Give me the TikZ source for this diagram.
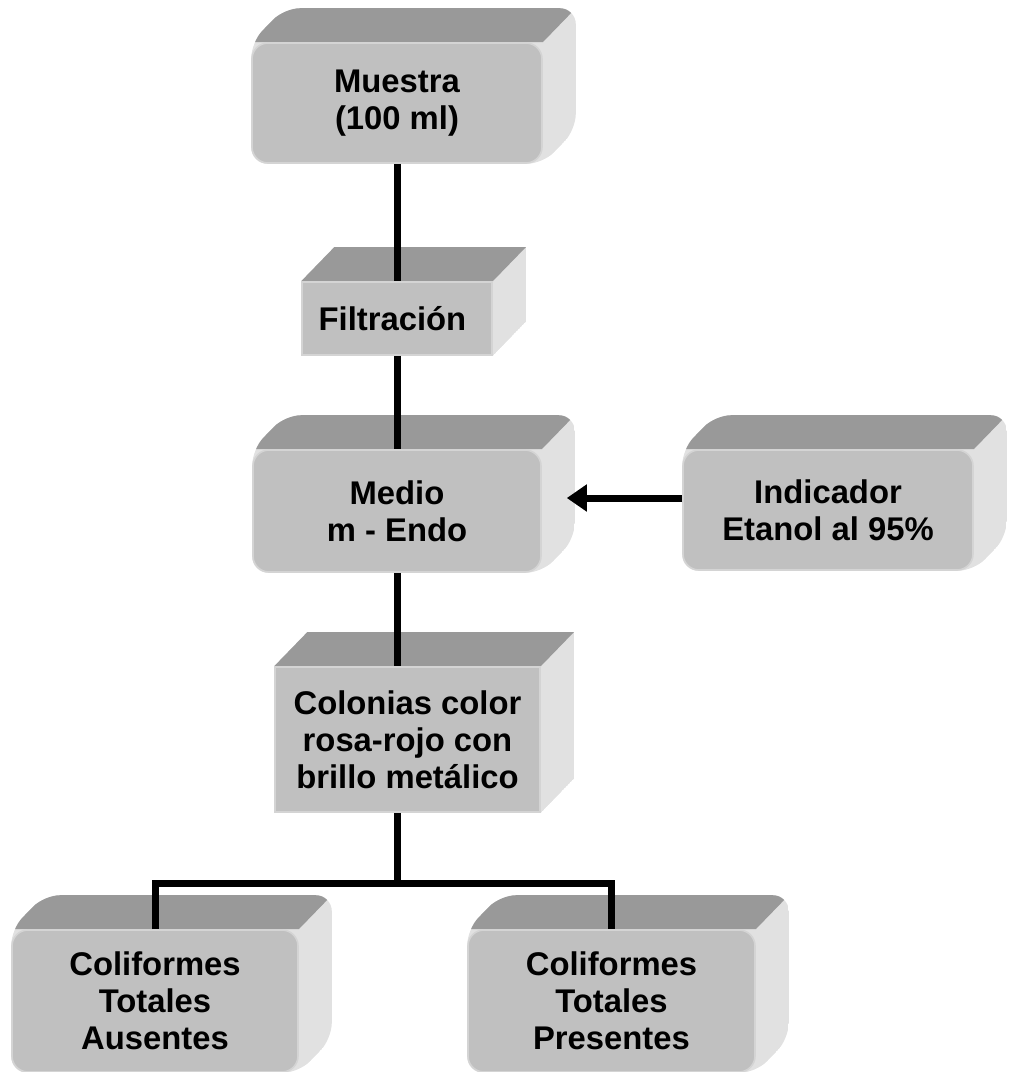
\documentclass[tikz,border=0pt]{standalone}
\usepackage{fontspec}
\setmainfont{Liberation Sans}
\usepackage{xcolor}
\definecolor{FrontGray}{RGB}{192,192,192}
\definecolor{TopGray}{RGB}{153,153,153}
\definecolor{SideGray}{RGB}{225,225,225}
\definecolor{EdgeGray}{RGB}{212,212,212}
\usepackage{tikz}
\usetikzlibrary{
    arrows.meta,
    calc,
    backgrounds
}
\tikzset{
    frontbox/.style={
        fill=FrontGray,
        draw=EdgeGray,
        line width=0.8pt,
        align=center,
        inner sep=0pt,
        font=\bfseries\fontsize{16.4}{18.5}\selectfont
    },
    roundbox/.style={
        frontbox,
        rounded corners=8pt
    },
    connector/.style={
        line width=3.5pt
    },
    flowarrow/.style={
        line width=3.5pt,
        -{Triangle[length=10pt,width=13pt]}
    }
}
% top and right faces of a box, drawn behind its front face
\newcommand{\drawdepth}[2]{%
    \begin{scope}[on background layer]
        \begin{scope}
            \path[clip,#2]
            (#1.south west) -- (#1.north west)
            -- ($(#1.north west)+(33,-34)$)
            -- ($(#1.north east)+(33,-34)$)
            -- ($(#1.south east)+(33,-34)$)
            -- (#1.south east) -- cycle;
            \fill[SideGray]
            (#1.south west) -- (#1.north west)
            -- ($(#1.north west)+(33,-34)$)
            -- ($(#1.north east)+(33,-34)$)
            -- ($(#1.south east)+(33,-34)$)
            -- (#1.south east) -- cycle;
            \fill[TopGray]
            (#1.north west)
            -- ($(#1.north west)+(33,-34)$)
            -- ($(#1.north east)+(33,-34)$)
            -- (#1.north east) -- cycle;
        \end{scope}
    \end{scope}%
}

\begin{document}
\begin{tikzpicture}[x=0.5pt,y=-0.5pt]
%
    \useasboundingbox (0,0) rectangle (1008,1072);
%
    % boxes of the procedure
%
    \node[
        roundbox,
        minimum width=145pt,
        minimum height=60pt
    ]
    (muestra) at (397,103) {
        Muestra\\(100 ml)
    };
%
    \node[
        frontbox,
        minimum width=95pt,
        minimum height=36.5pt
    ]
    (filtra) at (397,318.5) {
        Filtración
    };
%
    \node[
        roundbox,
        minimum width=144pt,
        minimum height=61pt
    ]
    (medio) at (397,511) {
        Medio\\m - Endo
    };
%
    \node[
        roundbox,
        minimum width=145pt,
        minimum height=60pt
    ]
    (indicador) at (828,510) {
        Indicador\\Etanol al 95\%
    };
%
    \node[
        frontbox,
        minimum width=132.5pt,
        minimum height=72.5pt
    ]
    (colonias) at (407.5,739.5) {
        Colonias color\\rosa-rojo con\\brillo metálico
    };
%
    \node[
        roundbox,
        minimum width=143pt,
        minimum height=71pt
    ]
    (ausentes) at (155,1001) {
        Coliformes\\Totales\\Ausentes
    };
%
    \node[
        roundbox,
        minimum width=143.5pt,
        minimum height=71pt
    ]
    (presentes) at (611.5,1001) {
        Coliformes\\Totales\\Presentes
    };
%
    \drawdepth{muestra}{rounded corners=8pt}
    \drawdepth{filtra}{sharp corners}
    \drawdepth{medio}{rounded corners=8pt}
    \drawdepth{indicador}{rounded corners=8pt}
    \drawdepth{colonias}{sharp corners}
    \drawdepth{ausentes}{rounded corners=8pt}
    \drawdepth{presentes}{rounded corners=8pt}
%
    % connectors
%
    \coordinate (colin) at (medio.south |- colonias.north);
    \coordinate (split) at (397,883);
    \coordinate (medioside) at ($(medio.east)+(25,-13)$);
%
    \draw[connector] (muestra.south) -- (filtra.north);
    \draw[connector] (filtra.south) -- (medio.north);
    \draw[connector] (medio.south) -- (colin);
    \draw[connector] (colonias.south -| split) -- (split);
%
    \draw[
        connector,
        line join=miter
    ]
    (ausentes.north) |- (split) -| (presentes.north);
%
    \draw[flowarrow] (indicador.west |- medioside) -- (medioside);
%
\end{tikzpicture}
\end{document}
